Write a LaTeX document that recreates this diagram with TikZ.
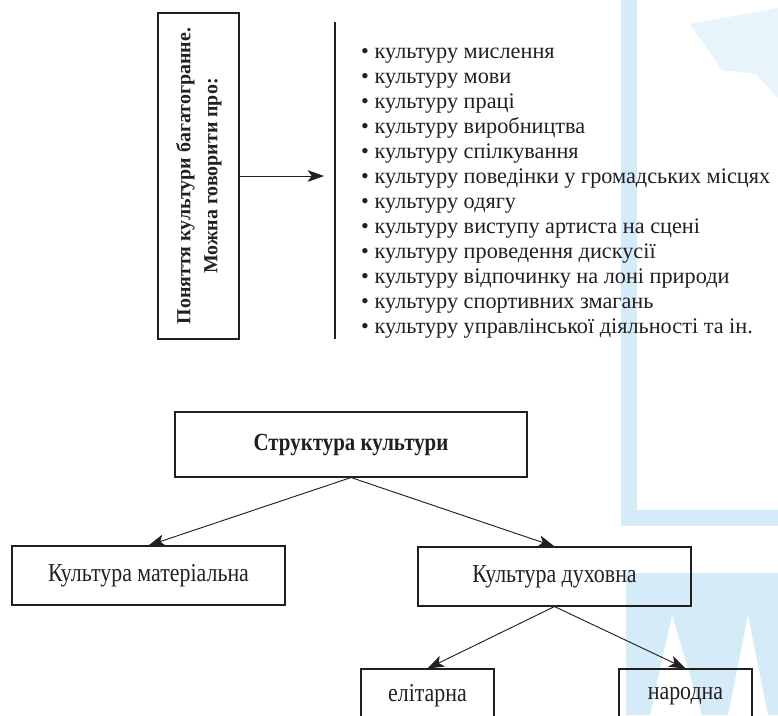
\documentclass[tikz,border=0pt]{standalone}
\usepackage{fontspec}
\setmainfont{Liberation Serif}
\newfontfamily\narrowfont[FakeStretch=0.85]{Liberation Serif}
\usetikzlibrary{arrows.meta}
\definecolor{ink}{RGB}{35,31,32}
\definecolor{wmblue}{RGB}{214,235,248}
\definecolor{wmpale}{RGB}{232,244,251}

\begin{document}
\begin{tikzpicture}[x=0.03cm,y=-0.03cm,
    box/.style={draw=ink,line width=0.9pt,text=ink,font=\narrowfont\fontsize{22}{25}\selectfont},
    headbox/.style={box,font=\narrowfont\bfseries\fontsize{21}{24}\selectfont},
    item/.style={anchor=base west,inner sep=0pt,text=ink,font=\fontsize{19}{22}\selectfont},
    arr/.style={draw=ink,line width=0.8pt,-{Stealth[length=14pt,width=10pt,inset=3.5pt]}}]
  \useasboundingbox (0,0) rectangle (778,715);
  \clip (0,0) rectangle (778,715);
  % watermark in the background
  \fill[wmblue] (621,0) rectangle (637,526);
  \fill[wmblue] (621,510) rectangle (778,526);
  \fill[wmpale] (690,24) -- (778,8) -- (778,98) -- (756,74) -- (722,70) -- cycle;
  \fill[wmblue] (626,573) -- (778,573) -- (778,715) -- (768,715) -- (748,615) -- (728,715)
    -- (702,715) -- (672,615) -- (650,715) -- (626,715) -- cycle;

  % upper part
  \node[draw=ink,line width=0.9pt,text=ink,inner sep=0pt,minimum width=2.43cm,minimum height=9.78cm] (idea) at (198.5,176)
    {\rotatebox{90}{\fontsize{17}{23}\selectfont\bfseries\begin{tabular}{@{}c@{}}Поняття культури багатогранне.\\Можна говорити про:\end{tabular}}};
  \coordinate (tip) at (324,176);
  \draw[arr] (idea.east) -- (tip);
  \coordinate (bartop) at (335,22);
  \coordinate (barbot) at (335,339);
  \draw[ink,line width=2.4pt] (bartop) -- (barbot);
  \foreach \t [count=\i] in {культуру мислення, культуру мови, культуру праці, культуру виробництва,
      культуру спілкування, культуру поведінки у громадських місцях, культуру одягу,
      культуру виступу артиста на сцені, культуру проведення дискусії,
      культуру відпочинку на лоні природи, культуру спортивних змагань,
      культуру управлінської діяльності та ін.}
    \node[item] (aspect\i) at (361,{33+25*\i}) {•\ \t};

  % lower part
  \node[headbox,minimum width=10.56cm,minimum height=1.95cm] (culture) at (351,444.5) {Структура культури};
  \node[box,minimum width=8.19cm,minimum height=1.77cm] (material) at (148.5,575.5) {Культура матеріальна};
  \node[box,minimum width=8.19cm,minimum height=1.77cm] (spirit) at (554.5,576.5) {Культура духовна};
  \node[box,minimum width=3.99cm,minimum height=1.62cm] (elite) at (427.5,696) {елітарна};
  \node[box,minimum width=3.99cm,minimum height=1.62cm] (folk) at (685.5,696) {народна};
  \draw[arr] (culture.south) -- (material.north);
  \draw[arr] (culture.south) -- (spirit.north);
  \draw[arr] (spirit.south) -- (elite.north);
  \draw[arr] (spirit.south) -- (folk.north);
\end{tikzpicture}
\end{document}
